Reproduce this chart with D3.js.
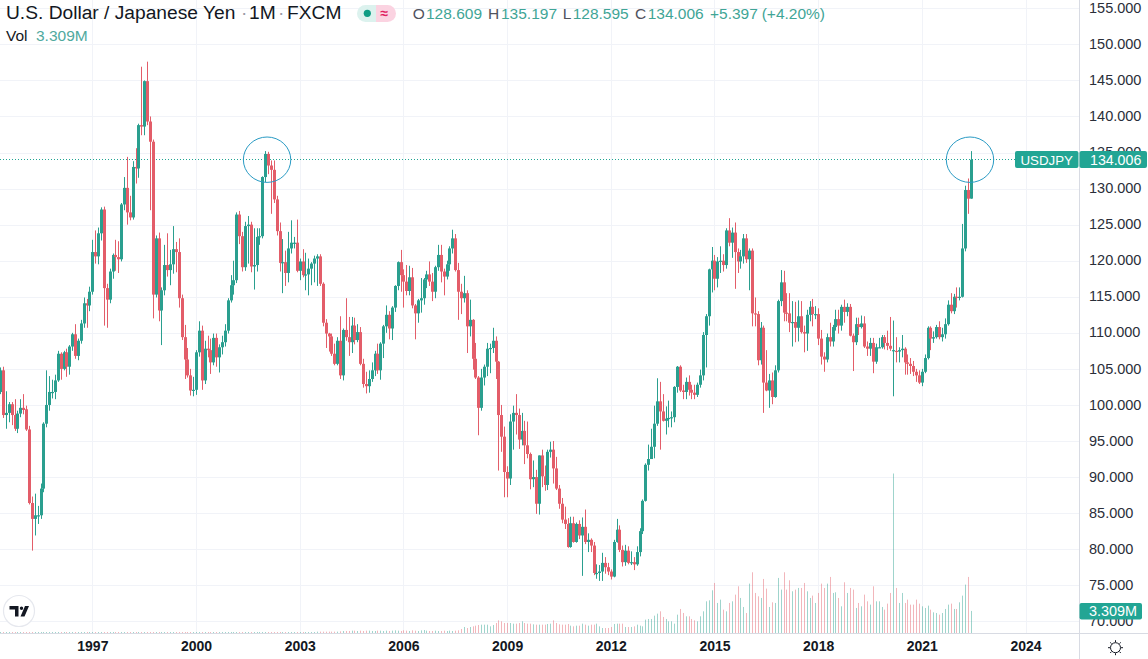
<!DOCTYPE html>
<html><head><meta charset="utf-8">
<script src="https://cdn.jsdelivr.net/npm/d3@7/dist/d3.min.js"></script>
<style>
html,body{margin:0;padding:0;background:#fff;overflow:hidden}
svg{display:block;font-family:"Liberation Sans",Arial,sans-serif}
.yaxis text{font-size:14.5px;fill:#2a2e39}
.xaxis text{font-size:14px;font-weight:700;fill:#131722}
</style></head><body><div id="chart"></div>
<script>
const opens=[
101.8,104.8,98.6,98.9,100.1,98.6,96.7,98.8,99.6,99.4,
96.6,86.4,84.2,84.7,84.7,88.4,97.4,100.0,101.8,101.8,
103.4,107.1,105.0,107.3,105.3,108.1,109.8,106.8,108.9,111.3,
114.1,113.8,115.7,121.2,120.6,123.8,127.1,116.2,114.6,118.5,
120.8,120.5,120.2,127.8,130.1,126.7,126.0,133.0,132.8,138.8,
138.6,144.9,139.3,136.5,115.3,123.1,113.1,115.9,119.4,118.7,
119.5,121.6,121.2,114.8,109.4,106.3,104.1,102.0,102.1,107.3,
110.3,103.4,107.8,107.6,105.9,109.3,106.6,108.0,108.7,110.3,
114.5,116.6,117.3,126.4,123.4,119.1,124.8,125.0,119.2,119.4,
123.3,123.4,131.6,134.8,133.2,132.6,128.5,124.1,119.7,119.8,
118.3,121.7,122.5,122.5,118.6,119.9,118.0,118.1,118.9,119.6,
120.3,120.6,116.8,111.4,109.9,109.5,107.1,105.7,108.9,104.1,
110.4,109.4,108.7,111.0,109.0,110.1,105.7,102.9,102.6,103.6,
104.8,107.1,104.8,108.5,110.9,112.5,110.6,113.5,116.5,119.8,
118.0,117.1,115.8,117.7,113.8,112.7,114.5,114.8,117.4,118.1,
117.1,115.7,119.1,120.8,118.5,117.8,119.5,121.7,123.1,118.7,
115.7,114.8,115.5,110.9,111.8,106.4,103.8,99.6,103.8,105.3,
107.8,107.9,108.9,106.0,98.6,95.6,90.7,89.8,97.7,98.9,
98.6,95.2,96.4,94.4,93.2,89.7,90.0,86.3,93.0,90.1,
88.9,93.5,93.8,91.2,88.4,86.3,84.1,83.5,80.3,83.6,
81.0,83.5,81.9,83.1,81.0,81.3,80.5,76.7,76.7,76.9,
78.1,77.5,76.9,76.2,81.0,82.7,79.9,78.2,79.8,78.1,
78.2,77.9,79.6,82.5,86.7,91.7,92.5,94.2,97.4,100.5,
99.1,97.8,98.1,98.2,98.3,102.5,105.3,102.0,101.8,103.2,
102.1,101.7,101.4,102.8,104.1,109.7,112.3,118.8,120.0,117.5,
119.9,120.0,119.4,124.2,122.5,123.9,121.2,119.9,120.6,123.1,
120.2,121.4,112.7,112.6,106.2,110.7,103.1,102.0,103.4,101.1,
104.8,114.4,117.0,112.8,112.7,111.4,111.5,110.7,112.3,110.1,
109.9,112.5,113.6,112.6,112.6,109.2,106.7,106.3,109.4,108.8,
110.8,111.9,111.0,113.6,112.9,113.6,109.6,108.7,111.2,110.8,
111.3,108.1,107.8,108.6,106.0,108.0,108.0,109.4,108.6,108.2,
107.5,107.5,107.4,107.6,107.8,105.9,105.7,105.4,104.6,104.1,
103.1,104.6,106.5,110.7,109.2,109.4,110.8,109.4,109.8,111.2,
113.9,113.0,115.0,114.9,115.0,121.7,129.8,128.609];
const closes=[
104.8,98.6,98.9,100.1,98.6,96.7,98.8,99.6,99.3,96.6,
86.4,84.2,84.7,84.7,88.4,97.4,100.0,101.8,101.8,103.4,
107.1,105.0,107.3,105.3,108.1,109.8,106.8,108.9,111.3,114.1,
113.8,115.7,121.2,120.6,123.8,127.1,116.2,114.6,118.5,120.8,
120.5,120.2,127.8,130.1,126.7,126.0,133.0,132.8,138.8,138.6,
144.9,139.3,136.5,115.3,123.1,113.1,115.9,119.4,118.7,119.5,
121.6,121.2,114.8,109.4,106.3,104.1,102.0,102.1,107.3,110.3,
103.4,107.8,107.6,105.9,109.3,106.6,108.0,108.7,110.3,114.5,
116.6,117.3,126.4,123.4,119.1,124.8,125.0,119.2,119.4,123.3,
123.4,131.6,134.8,133.2,132.6,128.5,124.1,119.7,119.8,118.3,
121.7,122.5,122.5,118.6,119.9,118.0,118.1,118.9,119.6,120.3,
120.6,116.8,111.4,109.9,109.5,107.1,105.7,108.9,104.1,110.4,
109.4,108.7,111.0,109.0,110.1,105.7,102.9,102.6,103.6,104.8,
107.1,104.8,108.5,110.9,112.5,110.6,113.5,116.5,119.8,118.0,
117.1,115.8,117.7,113.8,112.7,114.5,114.8,117.4,118.1,117.1,
115.7,119.1,120.8,118.5,117.8,119.5,121.7,123.1,118.7,115.7,
114.8,115.5,110.9,111.8,106.4,103.8,99.6,103.8,105.3,107.8,
107.9,108.9,106.0,98.6,95.6,90.7,89.8,97.7,98.9,98.6,
95.2,96.4,94.4,93.2,89.7,90.0,86.3,93.0,90.1,88.9,
93.5,93.8,91.2,88.4,86.3,84.1,83.5,80.3,83.6,81.0,
83.5,81.9,83.1,81.0,81.3,80.5,76.7,76.7,76.9,78.1,
77.5,76.9,76.2,81.0,82.7,79.9,78.2,79.8,78.1,78.2,
77.9,79.6,82.5,86.7,91.7,92.5,94.2,97.4,100.5,99.1,
97.8,98.1,98.2,98.3,102.5,105.3,102.0,101.8,103.2,102.1,
101.7,101.4,102.8,104.1,109.7,112.3,118.8,120.0,117.5,119.9,
120.0,119.4,124.2,122.5,123.9,121.2,119.9,120.6,123.1,120.2,
121.4,112.7,112.6,106.2,110.7,103.1,102.0,103.4,101.1,104.8,
114.4,117.0,112.8,112.7,111.4,111.5,110.7,112.3,110.1,109.9,
112.5,113.6,112.6,112.6,109.2,106.7,106.3,109.4,108.8,110.8,
111.9,111.0,113.6,112.9,113.6,109.6,108.7,111.2,110.8,111.3,
108.1,107.8,108.6,106.0,108.0,108.0,109.4,108.6,108.2,107.8,
107.6,107.4,107.6,107.8,105.9,105.7,105.4,104.6,104.1,103.1,
104.6,106.5,110.7,109.2,109.4,110.8,109.4,109.8,111.2,113.9,
113.0,115.0,114.9,115.0,121.7,129.8,128.6,134.006];
const highs=[
105.2,105.3,101.9,100.4,100.4,100.8,99.2,100.8,101.5,99.9,
97.1,87.3,87.7,86.0,89.1,97.6,104.8,104.0,103.5,104.2,
107.5,107.3,107.5,107.8,108.3,110.0,111.2,109.2,111.8,114.9,
114.7,116.4,122.9,124.2,124.6,127.4,127.5,116.8,118.9,121.0,
122.9,122.7,128.0,131.6,134.4,129.0,133.8,135.6,139.0,146.9,
145.0,147.6,140.0,136.8,123.5,123.9,116.3,122.2,123.8,121.5,
124.8,122.6,123.1,115.3,111.1,107.9,105.0,103.9,107.6,111.6,
111.0,108.9,109.6,109.2,109.9,109.9,108.4,109.6,111.2,114.8,
118.0,120.0,126.7,126.9,124.0,125.4,126.2,125.4,124.5,124.5,
124.5,131.7,135.2,135.1,133.9,133.9,129.0,125.3,123.0,121.4,
124.0,125.6,123.3,125.7,120.3,121.6,121.1,120.3,119.8,120.7,
120.9,120.9,117.0,111.9,110.0,109.9,108.5,109.4,112.3,110.6,
114.8,112.2,112.2,112.1,111.2,110.8,106.4,104.6,104.8,105.9,
107.5,108.5,108.7,111.1,113.8,113.0,113.7,116.6,119.9,121.5,
118.8,119.4,119.3,119.0,114.0,114.7,117.6,117.6,118.6,119.9,
118.3,119.3,122.2,122.2,118.9,120.0,122.0,124.3,123.7,119.7,
116.8,117.9,115.9,114.6,111.9,108.6,104.0,105.0,105.6,108.6,
108.5,110.7,109.5,106.1,100.0,97.0,91.5,98.7,99.9,101.5,
99.5,98.9,97.8,97.7,93.4,92.3,91.0,93.0,93.8,91.6,
93.8,94.9,95.0,92.8,88.9,87.1,85.9,84.3,84.5,84.5,
83.7,84.0,84.4,85.5,82.2,81.5,81.0,77.9,77.8,79.5,
78.9,78.1,77.2,81.3,84.2,83.3,80.5,80.6,80.4,79.7,
78.9,80.4,82.9,86.9,91.9,94.5,96.7,99.9,103.7,103.2,
101.5,99.8,100.6,99.1,102.6,105.4,105.5,102.8,103.8,104.1,
102.8,102.8,103.1,104.9,110.1,112.6,118.9,121.9,120.8,120.5,
122.0,120.9,124.5,125.9,124.6,125.3,121.7,121.5,123.7,123.7,
121.7,121.7,114.9,113.0,111.5,111.0,107.6,104.3,104.5,105.5,
114.6,118.7,118.6,115.5,115.5,114.4,114.3,114.5,114.4,111.0,
113.2,114.4,114.7,113.7,113.4,110.4,107.3,109.9,111.4,111.1,
113.2,113.2,113.9,114.6,114.1,114.0,109.9,112.1,112.1,112.4,
112.3,108.8,109.3,109.3,108.5,109.3,109.7,109.7,110.3,112.2,
111.7,109.4,108.0,109.7,108.0,107.0,106.5,106.1,105.0,104.8,
105.0,107.0,110.9,110.9,110.2,111.1,111.6,110.7,112.0,114.5,
115.5,115.4,116.3,116.3,125.1,130.4,131.4,135.197];
const lows=[
101.5,98.2,96.7,97.6,97.2,96.4,96.1,98.3,98.7,96.4,
86.2,79.8,81.9,83.5,84.2,87.9,96.9,99.2,100.9,100.8,
103.2,103.5,104.8,103.9,104.2,107.5,106.4,106.2,108.5,110.7,
110.7,113.0,115.3,119.6,119.5,122.8,111.0,110.7,114.1,117.5,
118.6,118.3,119.9,127.0,125.0,125.6,125.7,130.7,131.5,137.4,
137.4,138.8,127.0,112.0,114.9,111.6,108.3,115.2,117.8,116.6,
118.2,118.4,113.5,109.0,103.6,103.8,101.3,101.2,101.4,106.7,
102.1,102.9,106.6,104.3,105.5,105.3,104.5,107.0,108.1,109.9,
114.2,115.3,116.9,122.3,118.5,118.6,119.6,118.4,116.0,118.5,
122.2,123.1,130.9,132.0,126.5,128.0,123.5,118.5,115.5,116.5,
117.0,121.0,121.7,118.4,117.3,117.7,115.9,115.2,116.6,117.0,
116.5,116.5,110.9,107.9,107.4,106.8,105.5,105.5,103.6,103.4,
108.9,106.8,107.2,108.4,108.7,105.5,102.4,101.6,101.7,103.2,
104.0,104.3,103.5,106.5,110.0,109.1,109.0,112.9,115.9,115.7,
113.5,115.2,115.2,113.4,109.1,111.4,112.8,113.9,116.2,116.5,
114.4,114.8,118.6,117.0,115.2,117.4,118.6,121.0,118.5,111.8,
112.6,114.2,107.2,109.5,104.9,103.6,95.8,99.2,102.7,104.0,
104.4,107.2,103.6,90.9,93.5,87.2,87.2,88.9,93.8,95.9,
93.9,94.4,91.8,92.6,88.3,88.6,84.9,84.8,88.6,88.1,
88.2,92.7,89.1,88.2,85.6,83.6,82.8,80.2,80.2,80.9,
80.9,81.4,76.3,80.7,79.6,79.6,76.4,75.9,75.6,75.6,
76.6,76.4,75.8,76.1,80.9,79.6,77.6,77.7,77.9,77.8,
77.1,77.7,79.0,82.1,86.6,90.9,92.6,92.6,97.1,93.8,
97.7,95.9,96.9,96.9,97.6,101.7,101.8,100.8,100.8,101.3,
100.8,100.8,101.1,102.4,103.4,105.2,111.0,115.6,115.9,116.3,
118.3,118.5,118.9,122.0,120.4,116.1,118.3,118.9,119.6,119.7,
115.9,110.9,110.9,105.5,105.6,98.9,101.9,99.6,100.1,101.0,
104.5,113.7,111.6,111.6,110.1,108.1,108.7,108.8,109.9,107.3,
107.5,111.6,110.9,111.9,108.3,105.6,104.6,105.9,108.1,108.1,
110.3,109.9,110.3,111.4,112.3,109.5,104.7,108.3,109.7,110.6,
107.9,106.8,106.8,104.4,105.7,107.9,107.8,107.7,107.6,107.5,
101.2,105.9,105.9,106.6,104.2,104.2,104.3,104.0,103.2,102.9,
102.6,104.4,106.3,107.6,108.6,109.2,109.1,108.8,109.2,111.0,
112.7,112.6,113.5,114.5,114.9,121.3,126.5,128.595];
const volumes=[
.15,.15,.15,.15,.15,.15,.15,.15,.15,.15,
.15,.15,.15,.15,.15,.15,.15,.15,.15,.15,
.15,.15,.15,.15,.15,.15,.15,.15,.15,.15,
.15,.15,.15,.15,.15,.15,.15,.15,.15,.15,
.15,.15,.15,.15,.15,.15,.15,.15,.15,.15,
.15,.15,.15,.15,.15,.15,.15,.15,.15,.15,
.15,.15,.15,.15,.15,.15,.15,.15,.15,.15,
.15,.15,.15,.15,.15,.15,.15,.15,.15,.15,
.15,.15,.15,.15,.15,.15,.15,.15,.15,.15,
.15,.15,.15,.15,.15,.15,.15,.15,.15,.15,
.15,.15,.15,.15,.15,.15,.15,.15,.15,.15,
.2,.2,.2,.2,.2,.2,.2,.2,.25,.3,
.3,.3,.35,.35,.3,.35,.3,.35,.35,.3,
.3,.35,.35,.3,.35,.3,.35,.4,.35,.3,
.4,.35,.3,.4,.35,.3,.4,.45,.35,.3,
.3,.35,.3,.3,.35,.3,.35,.3,.35,.4,
.6,.9,.75,.9,1.0,1.1,1.2,1.25,1.25,1.25,
1.0,1.2,1.5,1.9,1.75,1.5,1.5,1.5,1.4,1.4,
1.5,1.75,1.5,1.4,1.4,1.3,1.25,1.25,1.25,1.25,
1.35,1.4,1.9,1.5,1.3,1.25,1.25,1.35,1.1,1.0,
1.1,1.1,1.4,1.25,1.1,1.25,1.25,1.4,1.0,.75,
.75,.75,.9,1.35,1.4,1.4,1.4,.9,.9,.9,
1.0,1.25,1.1,1.0,2.0,2.1,2.1,2.6,2.9,3.25,
2.4,2.1,1.75,1.75,1.4,2.75,3.6,3.0,2.5,2.5,
2.1,1.9,1.75,2.5,3.25,4.75,4.9,6.4,7.5,4.5,
5.0,3.5,3.25,4.5,4.75,5.75,7.0,5.25,3.9,3.0,
7.4,9.1,6.0,5.5,5.25,8.1,6.65,3.9,4.6,4.5,
8.25,6.5,9.1,6.5,7.9,6.25,6.5,6.75,6.75,7.5,
6.25,5.25,5.6,4.5,6.0,7.4,6.75,7.4,8.4,6.0,
6.1,5.25,4.0,7.6,6.0,6.75,6.5,3.75,4.5,4.0,
5.75,4.75,4.25,7.0,4.75,4.75,3.9,3.5,4.4,6.0,
23.9,6.75,4.5,6,4.5,5,4.25,4.25,5,4.4,
4,3.75,4.1,3.5,3.1,3,2.75,3,3.6,4.25,
4.4,3.6,3.6,4.6,5.6,7.25,8.4,3.309];
const yearLabels=[1997,2000,2003,2006,2009,2012,2015,2018,2021,2024];
const priceTicks=[155,150,145,140,135,130,125,120,115,110,105,100,95,90,85,80,75,70];
const lastPrice=134.006;
const highlightedBars=[92,337];
const legendParts=[["O",412.7,1],["128.609",426,0],["H",488,1],["135.197",501,0],["L",562.7,1],["128.595",572.7,0],["C",635,1],["134.006",647.7,0],["+5.397",710,0],["(+4.20%)",761.7,0]];

if(new Set([opens.length,closes.length,highs.length,lows.length,volumes.length]).size!==1)
  throw new Error("length "+[opens.length,closes.length,highs.length,lows.length,volumes.length]);

const W=1148,H=659,UP="#2a9f8f",DOWN="#e35d69",GRID="#f1f3f8",BORDER="#d8dbe3",TEAL="#22a594",LEG="#3fa596";
const paneR=1079,paneB=633;
const svg=d3.select("#chart").append("svg").attr("width",W).attr("height",H);
const x=d3.scaleLinear().domain([0,337]).range([0.7,971.3]);
const y=d3.scaleLinear().domain([155,70]).range([8.3,621.3]);
const vy=d3.scaleLinear().domain([0,23.9]).range([paneB,473.5]);
const yearIdx=yr=>(yr-1994)*12-4;
const bars=d3.range(opens.length).map(i=>({i,o:opens[i],h:highs[i],l:lows[i],c:closes[i],v:volumes[i],up:closes[i]>=opens[i]}));
const snap=v=>Math.floor(v)+.5;

// grid
const grid=svg.append("g");
grid.selectAll("line.gy").data(priceTicks).join("line").attr("class","gy").attr("x1",0).attr("x2",paneR)
  .attr("y1",d=>Math.round(y(d))+.5).attr("y2",d=>Math.round(y(d))+.5).attr("stroke",GRID);
grid.selectAll("line.gx").data(yearLabels).join("line").attr("class","gx").attr("y1",0).attr("y2",paneB)
  .attr("x1",d=>snap(x(yearIdx(d)))).attr("x2",d=>snap(x(yearIdx(d)))).attr("stroke",GRID);

// volume
svg.append("g").selectAll("rect").data(bars).join("rect")
  .attr("x",d=>Math.floor(x(d.i))).attr("width",1)
  .attr("y",d=>vy(d.v)).attr("height",d=>paneB-vy(d.v))
  .attr("fill",d=>d.up?UP:DOWN).attr("opacity",.45);

// last price line
svg.append("line").attr("x1",0).attr("x2",1016).attr("y1",snap(y(lastPrice))).attr("y2",snap(y(lastPrice)))
  .attr("stroke",TEAL).attr("stroke-dasharray","1 2");

// candles
const cg=svg.append("g");
cg.selectAll("line").data(bars).join("line")
  .attr("x1",d=>snap(x(d.i))).attr("x2",d=>snap(x(d.i))).attr("y1",d=>y(d.h)).attr("y2",d=>y(d.l))
  .attr("stroke",d=>d.up?UP:DOWN).attr("stroke-width",1);
cg.selectAll("rect").data(bars).join("rect")
  .attr("x",d=>Math.floor(x(d.i))-1).attr("width",3)
  .attr("y",d=>Math.min(y(d.o),y(d.c)))
  .attr("height",d=>Math.max(1.2,Math.abs(y(d.o)-y(d.c))))
  .attr("fill",d=>d.up?UP:DOWN);

// highlight circles
svg.append("g").selectAll("ellipse").data(highlightedBars).join("ellipse")
  .attr("cx",d=>x(d)+(d===92?1.4:-1.3)).attr("cy",y(lastPrice)).attr("rx",23.7).attr("ry",22.7)
  .attr("fill","none").attr("stroke","#2a9bc4").attr("stroke-width",1);

// right axis
const yAxis=svg.append("g").attr("class","yaxis").attr("transform",`translate(${paneR},0)`)
  .call(d3.axisRight(y).offset(0).tickValues(priceTicks).tickFormat(d3.format(".3f")).tickSize(0).tickPadding(10));
yAxis.select(".domain").remove();
svg.append("line").attr("x1",paneR+.5).attr("x2",paneR+.5).attr("y1",0).attr("y2",H).attr("stroke",BORDER);
svg.append("line").attr("x1",0).attr("x2",W).attr("y1",paneB+.5).attr("y2",paneB+.5).attr("stroke",BORDER);

// bottom axis
const xAxis=svg.append("g").attr("class","xaxis").attr("transform",`translate(0,${paneB})`)
  .call(d3.axisBottom(x).offset(0).tickValues(yearLabels.map(yearIdx)).tickFormat((d,i)=>yearLabels[i]).tickSize(0).tickPadding(8));
xAxis.select(".domain").remove();

// price tags
function tag(x0,w,y0,h,txt,tx,ty,fs){
  svg.append("rect").attr("x",x0).attr("y",y0).attr("width",w).attr("height",h).attr("rx",2).attr("fill",TEAL);
  svg.append("text").attr("x",tx).attr("y",ty).attr("fill","#fff").attr("font-size",fs+"px").text(txt);
}
tag(1015,63.5,151,17,"USDJPY",1020.5,164.5,13.3);
tag(1079.5,67.5,151,17,"134.006",1090,164.5,14.2);
tag(1079.5,62.5,603,16.5,"3.309M",1089,616.3,14.4);

// legend
const title=svg.append("text").attr("y",19).attr("font-size","19.2px").attr("fill","#131722");
title.append("tspan").attr("x",6).text("U.S. Dollar / Japanese Yen");
title.append("tspan").attr("x",241).attr("fill","#9a9da6").text("·");
title.append("tspan").attr("x",249).text("1M");
title.append("tspan").attr("x",278).attr("fill","#9a9da6").text("·");
title.append("tspan").attr("x",287).text("FXCM");
svg.append("path").attr("fill","#dcf2ee").attr("d","M376,5 H365.5 a8.5,8.5 0 0 0 0,17 H376 Z");
svg.append("path").attr("fill","#fbd3e1").attr("d","M376,5 H387.5 a8.5,8.5 0 0 1 0,17 H376 Z");
svg.append("circle").attr("cx",367.3).attr("cy",13.3).attr("r",3.6).attr("fill","#0f9d84");
svg.append("text").attr("x",380.5).attr("y",18).attr("font-size","14px").attr("font-weight",700).attr("fill","#e0205f").text("≈");
const ohlc=svg.append("text").attr("y",19).attr("font-size","15.5px");
legendParts.forEach(s=>ohlc.append("tspan").attr("x",s[1]).attr("fill",s[2]?"#50535e":LEG).text(s[0]));
svg.append("text").attr("x",6).attr("y",41).attr("font-size","15.5px").attr("fill","#131722").text("Vol");
svg.append("text").attr("x",36).attr("y",41).attr("font-size","15.5px").attr("fill","#4fa99e").text("3.309M");

// logo
const logo=svg.append("g").attr("transform","translate(19,611)");
logo.append("circle").attr("r",15.5).attr("fill","#fff").attr("stroke","#e6e8ee").attr("stroke-width",1.2);
logo.append("path").attr("fill","#131722").attr("d","M-9.5,-5 H-0.5 V5.5 H-4 V-1.5 H-9.5 Z M6,-5 H10 L5.5,5.5 H1.5 Z M0.8,-2.8 a1.7,1.7 0 1 0 3.4,0 a1.7,1.7 0 1 0 -3.4,0");

// settings sun
const sun=svg.append("g").attr("transform","translate(1115.5,647.7)").attr("stroke","#131722").attr("fill","none");
sun.append("circle").attr("r",5);
d3.range(8).forEach(k=>{const a=k*Math.PI/4;
  sun.append("line").attr("x1",Math.cos(a)*5.5).attr("y1",Math.sin(a)*5.5).attr("x2",Math.cos(a)*7.5).attr("y2",Math.sin(a)*7.5);});
</script></body></html>
